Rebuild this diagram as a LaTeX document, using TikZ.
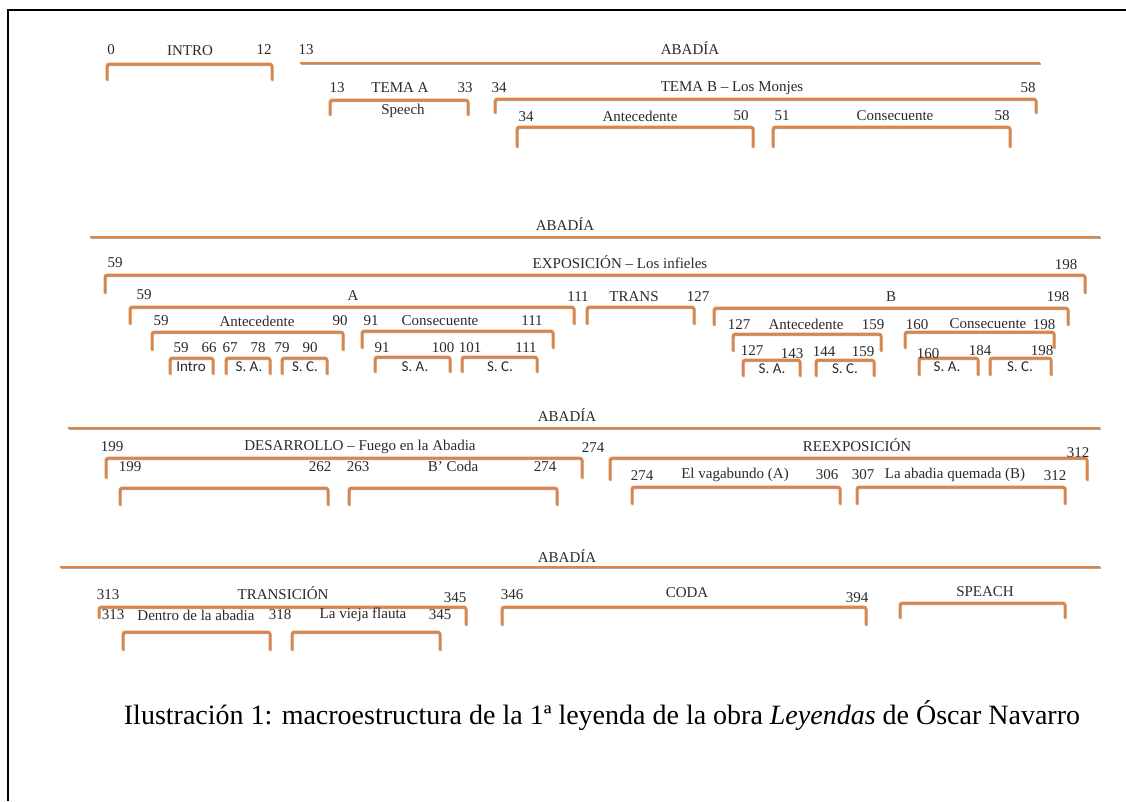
\documentclass[tikz,border=0pt]{standalone}
\usepackage{fontspec}
\setmainfont{Liberation Serif}
\newfontfamily\tagfont{Carlito}
\definecolor{corange}{HTML}{DD8447}
\definecolor{cshade}{HTML}{B3A599}
\definecolor{ctext}{HTML}{2A2A2A}
\tikzset{
  every picture/.style={line width=1pt},
  bracket/.style={draw=corange, line width=2.6pt, rounded corners=2pt,
    preaction={draw=cshade, line width=2.4pt, transform canvas={shift={(0.5pt,-1pt)}}}},
  frame/.style={draw=black, line width=1.6pt},
  num/.style={font=\fontsize{15}{17}\selectfont, text=ctext, inner sep=0pt},
  tag/.style={font=\tagfont\fontsize{15}{17}\selectfont, text=ctext, inner sep=0pt},
  caption/.style={font=\fontsize{28}{32}\selectfont, text=black, inner sep=0pt},
}
% left x, right x, y, left leg, right leg
\newcommand{\brk}[5]{
  \draw[bracket] (#1,#3+#4) -- (#1,#3) -- (#2,#3) -- (#2,#3+#5);
}

\begin{document}
\begin{tikzpicture}[x=1pt, y=-1pt]
  \useasboundingbox (0,0) rectangle (1126,801);
  \draw[frame] (8,801) -- (8,10) -- (1126,10);
  % row 1
  \brk{107}{272}{64}{16}{16}
  \node[num] (i0) at (111,50) {0};
  \node[num] (intro) at (190,51) {INTRO};
  \node[num] (i12) at (264,50) {12};
  \draw[bracket] (300,63) -- (1040,63);
  \node[num] (a13) at (306,50) {13};
  \node[num] (abadia1) at (690,48) {ABADÍA};
  \brk{330}{468}{100}{15}{15}
  \node[num] (ta13) at (337,88) {13};
  \node[num] (temaa) at (400,88) {TEMA A};
  \node[num] (ta33) at (465,88) {33};
  \node[num] (speech) at (403,111) {Speech};
  \brk{495}{1036}{99}{14}{14}
  \node[num] (tb34) at (499,88) {34};
  \node[num] (temab) at (732,88) {TEMA B – Los Monjes};
  \node[num] (tb58) at (1028,88) {58};
  \brk{517}{753}{127}{20}{20}
  \node[num] (an34) at (526,117) {34};
  \node[num] (ante1) at (640,116) {Antecedente};
  \node[num] (an50) at (741,116) {50};
  \brk{773}{1010}{127}{20}{20}
  \node[num] (co51) at (782,116) {51};
  \node[num] (cons1) at (895,116) {Consecuente};
  \node[num] (co58) at (1002,116) {58};
  % row 2
  \draw[bracket] (90,237) -- (1100,237);
  \node[num] (abadia2) at (565,224) {ABADÍA};
  \brk{105}{1085}{275}{18}{18}
  \node[num] (ex59) at (115,263) {59};
  \node[num] (expo) at (620,262) {EXPOSICIÓN – Los infieles};
  \node[num] (ex198) at (1066,265) {198};
  \brk{130}{574}{307}{17}{17}
  \node[num] (pa59) at (144,295) {59};
  \node[num] (parta) at (353,296) {A};
  \node[num] (tr111) at (578,297) {111};
  \brk{587}{694}{307}{17}{17}
  \node[num] (trans) at (634,297) {TRANS};
  \node[num] (tr127) at (698,297) {127};
  \brk{714}{1068}{308}{17}{17}
  \node[num] (partb) at (891,297) {B};
  \node[num] (pb198) at (1058,297) {198};
  \brk{152}{343}{332}{18}{18}
  \node[num] (aa59) at (161,321) {59};
  \node[num] (ante2) at (257,321) {Antecedente};
  \node[num] (aa90) at (340,321) {90};
  \brk{362}{553}{331}{17}{17}
  \node[num] (ac91) at (371,321) {91};
  \node[num] (cons2) at (440,321) {Consecuente};
  \node[num] (ac111) at (532,321) {111};
  \brk{170}{213}{358}{16}{16}
  \brk{226}{270}{358}{16}{16}
  \brk{282}{327}{358}{16}{16}
  \brk{375}{450}{357}{15}{15}
  \brk{462}{537}{357}{15}{15}
  \foreach \x/\t in {181/59, 209/66, 230/67, 258/78, 282/79, 310/90,
                     382/91, 443/100, 470/101, 526/111}
    \node[num] (sa\t) at (\x,348) {\t};
  \node[tag] (sintro) at (191,367) {Intro};
  \node[tag] (ssa1) at (249,367) {S. A.};
  \node[tag] (ssc1) at (305,367) {S. C.};
  \node[tag] (ssa2) at (415,367) {S. A.};
  \node[tag] (ssc2) at (500,367) {S. C.};
  \brk{733}{881}{334}{17}{17}
  \node[num] (ba127) at (739,325) {127};
  \node[num] (ante3) at (806,324) {Antecedente};
  \node[num] (ba159) at (873,325) {159};
  \brk{905}{1054}{332}{16}{16}
  \node[num] (bc160) at (917,325) {160};
  \node[num] (cons3) at (988,324) {Consecuente};
  \node[num] (bc198) at (1044,325) {198};
  \brk{743}{800}{360}{16}{16}
  \brk{816}{874}{360}{16}{16}
  \brk{919}{978}{358}{17}{17}
  \brk{990}{1051}{358}{17}{17}
  \foreach \x/\y/\t in {752/351/127, 792/354/143, 824/352/144, 863/352/159,
                        928/354/160, 980/351/184, 1042/351/198}
    \node[num] (sb\t) at (\x,\y) {\t};
  \node[tag] (ssa3) at (772,369) {S. A.};
  \node[tag] (ssc3) at (845,369) {S. C.};
  \node[tag] (ssa4) at (947,367) {S. A.};
  \node[tag] (ssc4) at (1020,367) {S. C.};
  % row 3
  \draw[bracket] (68,428) -- (1100,428);
  \node[num] (abadia3) at (567,415) {ABADÍA};
  \brk{106}{582}{458}{20}{20}
  \node[num] (de199) at (112,447) {199};
  \node[num] (desa) at (360,447) {DESARROLLO – Fuego en la Abadia};
  \node[num] (de274) at (593,448) {274};
  \brk{120}{328}{488}{17}{17}
  \brk{349}{557}{488}{17}{17}
  \node[num] (d199) at (130,467) {199};
  \node[num] (d262) at (320,467) {262};
  \node[num] (d263) at (358,467) {263};
  \node[num] (bcoda) at (453,466) {B' Coda};
  \node[num] (d274) at (545,467) {274};
  \brk{610}{1087}{458}{22}{22}
  \node[num] (reex) at (857,445) {REEXPOSICIÓN};
  \node[num] (re312) at (1078,453) {312};
  \brk{632}{840}{487}{17}{17}
  \brk{857}{1065}{487}{17}{17}
  \node[num] (r274) at (642,476) {274};
  \node[num] (vaga) at (735,475) {El vagabundo (A)};
  \node[num] (r306) at (827,475) {306};
  \node[num] (r307) at (863,475) {307};
  \node[num] (quem) at (955,475) {La abadia quemada (B)};
  \node[num] (r312) at (1055,476) {312};
  % row 4
  \draw[bracket] (60,567) -- (1100,567);
  \node[num] (abadia4) at (567,556) {ABADÍA};
  \brk{99}{466}{607}{11}{18}
  \node[num] (tn313) at (108,595) {313};
  \node[num] (transi) at (283,593) {TRANSICIÓN};
  \node[num] (tn345) at (455,598) {345};
  \brk{123}{270}{632}{18}{18}
  \brk{292}{440}{632}{18}{18}
  \node[num] (t313) at (113,615) {313};
  \node[num] (dentro) at (196,615) {Dentro de la abadia};
  \node[num] (t318) at (280,615) {318};
  \node[num] (flauta) at (363,615) {La vieja flauta};
  \node[num] (t345) at (440,615) {345};
  \brk{502}{866}{607}{18}{18}
  \node[num] (co346) at (512,595) {346};
  \node[num] (coda) at (687,593) {CODA};
  \node[num] (co394) at (857,598) {394};
  \brk{900}{1065}{603}{15}{15}
  \node[num] (speach) at (985,592) {SPEACH};
  % caption
  \node[caption] (cap) at (602,715) {Ilustración 1: macroestructura de la 1ª leyenda de la obra \textit{Leyendas} de Óscar Navarro};
\end{tikzpicture}
\end{document}
